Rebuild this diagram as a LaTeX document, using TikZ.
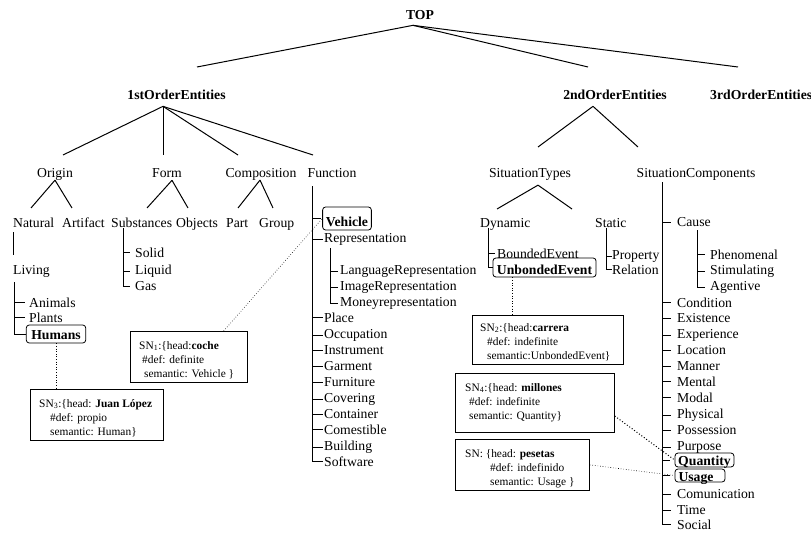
\documentclass[tikz,border=0pt]{standalone}
\usepackage{fontspec}
\setmainfont{Liberation Serif}
\usetikzlibrary{calc}
\begin{document}
\begin{tikzpicture}[x=1pt,y=-1pt,
  lab/.style={font=\fontsize{13.7}{16}\selectfont, inner sep=0pt},
  head/.style={font=\fontsize{13.7}{16}\selectfont\bfseries, inner sep=0pt, anchor=base},
  mid/.style={lab, anchor=base},
  item/.style={lab, anchor=base west},
  hl/.style={draw, rounded corners=3pt, line width=0.8pt, font=\fontsize{13.7}{16}\selectfont\bfseries, inner ysep=0pt, anchor=base},
  edge/.style={line width=1pt},
  spine/.style={line width=0.9pt},
  snbox/.style={draw, line width=0.8pt, anchor=north west, inner sep=0pt},
  sntext/.style={font=\fontsize{11.4}{14}\selectfont, align=left, anchor=north west, inner sep=0pt},
  link/.style={dotted, line width=0.6pt},
]
\useasboundingbox (0,0) rectangle (811,534);

% ---- upper levels ----
\node[head] (top) at (420,20) {TOP};
\node[head] (first) at (176.5,100) {1stOrderEntities};
\node[head] (second) at (615,100) {2ndOrderEntities};
\node[head, anchor=base west] (third) at (710,100) {3rdOrderEntities};

\coordinate (top-f) at ([xshift=-7pt,yshift=-5pt]top.south);
\coordinate (h1) at (197,67);
\coordinate (h2) at (588,67);
\coordinate (h3) at (738,67);
\draw[edge] (top-f) -- (h1);
\draw[edge] (top-f) -- (h2);
\draw[edge] (top-f) -- (h3);

\node[mid] (origin) at (55,178) {Origin};
\node[mid] (form) at (167,178) {Form};
\node[mid] (composition) at (261,178) {Composition};
\node[mid] (function) at (332,178) {Function};
\node[mid] (sittypes) at (530,178) {SituationTypes};
\node[mid] (sitcomp) at (696,178) {SituationComponents};

\coordinate (first-f) at ([xshift=-13.5pt,yshift=-6pt]first.south);
\coordinate (o-h) at (63,155);
\coordinate (f-h) at (163,155);
\coordinate (c-h) at (238,155);
\coordinate (fn-h) at (313,155);
\foreach \h in {o-h,f-h,c-h,fn-h} \draw[edge] (first-f) -- (\h);

\coordinate (second-f) at ([xshift=-22pt,yshift=-6pt]second.south);
\coordinate (st-h) at (538,147);
\coordinate (sc-h) at (638,147);
\draw[edge] (second-f) -- (st-h);
\draw[edge] (second-f) -- (sc-h);

% ---- third level ----
\node[item] (natural) at (13,227.5) {Natural};
\node[item] (artifact) at (62,227.5) {Artifact};
\node[item] (substances) at (111,227.5) {Substances};
\node[item] (objects) at (176,227.5) {Objects};
\node[item] (part) at (226,227.5) {Part};
\node[item] (group) at (259,227.5) {Group};
\node[item] (dynamic) at (480,227.5) {Dynamic};
\node[item] (static) at (595,227.5) {Static};

\coordinate (origin-f) at ([yshift=1pt]origin.south);
\coordinate (nat-h) at (31,208);
\coordinate (art-h) at (72,208);
\draw[edge] (origin-f) -- (nat-h);
\draw[edge] (origin-f) -- (art-h);

\coordinate (form-f) at ([xshift=5pt,yshift=-2pt]form.south);
\coordinate (sub-h) at (147,208);
\coordinate (obj-h) at (188,208);
\draw[edge] (form-f) -- (sub-h);
\draw[edge] (form-f) -- (obj-h);

\coordinate (comp-f) at ([xshift=-1pt,yshift=1pt]composition.south);
\coordinate (part-h) at (238,208);
\coordinate (group-h) at (273,208);
\draw[edge] (comp-f) -- (part-h);
\draw[edge] (comp-f) -- (group-h);

\coordinate (st-f) at ([xshift=8pt,yshift=-4pt]sittypes.south);
\coordinate (dyn-h) at (497,209);
\coordinate (sta-h) at (572,209);
\draw[edge] (st-f) -- (dyn-h);
\draw[edge] (st-f) -- (sta-h);

% ---- Natural / Living ----
\node[item] (living) at (13,274.5) {Living};
\node[item] (animals) at (29,307.5) {Animals};
\node[item] (plants) at (29,322.5) {Plants};
\node[hl, inner xsep=5pt, text height=14.5pt, text depth=3.5pt] (humans) at (56,339.5) {Humans};
\draw[spine, shorten <=4.5pt, shorten >=10pt] (natural.south west) -- (living.north west);
\coordinate (liv-s) at ([xshift=1pt,yshift=-4.5pt]living.south west);
\draw[spine] (liv-s) |- (humans.west);
\foreach \n in {animals,plants} \draw[spine, shorten >=4pt] (liv-s |- \n.west) -- (\n.west);

% ---- Substances ----
\node[item] (solid) at (135,257.5) {Solid};
\node[item] (liquid) at (135,274.5) {Liquid};
\node[item] (gas) at (135,290.5) {Gas};
\coordinate (sub-s) at ([xshift=12pt,yshift=-0.5pt]substances.south west);
\draw[spine, shorten >=5pt] (sub-s) |- (gas.west);
\foreach \n in {solid,liquid} \draw[spine, shorten >=5pt] (sub-s |- \n.west) -- (\n.west);

% ---- Function ----
\node[hl, inner xsep=3.3pt, text height=19.5pt, text depth=3.5pt] (vehicle) at (347,226.5) {Vehicle};
\node[item] (representation) at (324,242.5) {Representation};
\node[item] (langrep) at (340,274.5) {LanguageRepresentation};
\node[item] (imagerep) at (340,291) {ImageRepresentation};
\node[item] (moneyrep) at (340,307) {Moneyrepresentation};
\node[item] (place) at (324,322.5) {Place};
\node[item] (occupation) at (324,338.5) {Occupation};
\node[item] (instrument) at (324,354.5) {Instrument};
\node[item] (garment) at (324,370.5) {Garment};
\node[item] (furniture) at (324,386.5) {Furniture};
\node[item] (covering) at (324,402.5) {Covering};
\node[item] (container) at (324,418.5) {Container};
\node[item] (comestible) at (324,434.5) {Comestible};
\node[item] (building) at (324,450.5) {Building};
\node[item] (software) at (324,466.5) {Software};
\coordinate (fn-s) at ([xshift=5pt,yshift=-8pt]function.south west);
\draw[spine, shorten >=1pt] (fn-s) |- (software.west);
\foreach \n in {vehicle,representation,place,occupation,instrument,garment,furniture,covering,container,comestible,building}
  \draw[spine, shorten >=1pt] (fn-s |- \n.west) -- (\n.west);
\coordinate (rep-s) at ([xshift=6pt,yshift=-2.5pt]representation.south west);
\draw[spine, shorten >=2pt] (rep-s) |- (moneyrep.west);
\foreach \n in {langrep,imagerep} \draw[spine, shorten >=2pt] (rep-s |- \n.west) -- (\n.west);

% ---- Dynamic / Static ----
\node[item] (bounded) at (497,258.5) {BoundedEvent};
\node[hl, inner xsep=4pt, text height=16.5pt, text depth=2.5pt] (unb) at (544.5,274.5) {UnbondedEvent};
\coordinate (dyn-s) at ([xshift=8pt,yshift=2.5pt]dynamic.south west);
\draw[spine] (dyn-s) |- (unb.west);
\draw[spine, shorten >=2pt] (dyn-s |- bounded.west) -- (bounded.west);

\node[item] (property) at (612,259.5) {Property};
\node[item] (relation) at (612,274.5) {Relation};
\coordinate (sta-s) at ([xshift=11pt,yshift=-0.5pt]static.south west);
\draw[spine, shorten >=0.5pt] (sta-s) |- (relation.west);
\draw[spine, shorten >=0.5pt] (sta-s |- property.west) -- (property.west);

% ---- SituationComponents ----
\node[item] (cause) at (677,226.5) {Cause};
\node[item] (phenomenal) at (710,259.5) {Phenomenal};
\node[item] (stimulating) at (710,274.5) {Stimulating};
\node[item] (agentive) at (710,290.5) {Agentive};
\node[item] (condition) at (677,307.5) {Condition};
\node[item] (existence) at (677,322.5) {Existence};
\node[item] (experience) at (677,338.5) {Experience};
\node[item] (location) at (677,354.5) {Location};
\node[item] (manner) at (677,370.5) {Manner};
\node[item] (mental) at (677,386.5) {Mental};
\node[item] (modal) at (677,402.5) {Modal};
\node[item] (physical) at (677,418.5) {Physical};
\node[item] (possession) at (677,434.5) {Possession};
\node[item] (purpose) at (677,450.5) {Purpose};
\node[hl, inner xsep=3.2pt, text height=12.5pt, text depth=1.5pt] (qty) at (704.5,465.5) {Quantity};
\node[hl, inner xsep=3.5pt, text height=12.5pt, text depth=0.5pt] (usage) at (700,481.5) {Usage\hspace*{8pt}};
\node[item] (comunication) at (677,498.5) {Comunication};
\node[item] (time) at (677,514.5) {Time};
\node[item] (social) at (677,529.5) {Social};
\coordinate (sc-s) at ([xshift=26pt,yshift=-1pt]sitcomp.south west);
\draw[spine, shorten >=6pt] (sc-s) |- (social.west);
\foreach \n in {cause,condition,existence,experience,location,manner,mental,modal,physical,possession,purpose,comunication,time}
  \draw[spine, shorten >=6pt] (sc-s |- \n.west) -- (\n.west);
\foreach \n in {qty,usage}
  \draw[spine, shorten >=5pt] (sc-s |- \n.west) -- (\n.west);
\coordinate (cau-s) at ([xshift=20pt,yshift=-3.5pt]cause.south west);
\draw[spine, shorten >=5pt] (cau-s) |- (agentive.west);
\foreach \n in {phenomenal,stimulating} \draw[spine, shorten >=5pt] (cau-s |- \n.west) -- (\n.west);

% ---- SN annotation boxes ----
\node[snbox, minimum width=133pt, minimum height=51pt] (sn3) at (30,389) {};
\node[sntext] (sn3t) at (39,399) {SN\textsubscript{3}:\{head: \textbf{Juan López}\\\hspace*{11pt}\#def: propio\\\hspace*{11pt}semantic: Human\}};

\node[snbox, minimum width=117pt, minimum height=51pt] (sn1) at (130,331) {};
\node[sntext] (sn1t) at (139,341) {SN\textsubscript{1}:\{head:\textbf{coche}\\\hspace*{3pt}\#def: definite\\\hspace*{5pt}semantic: Vehicle \}};

\node[snbox, minimum width=151pt, minimum height=49pt] (sn2) at (472,315) {};
\node[sntext] (sn2t) at (480,323) {SN\textsubscript{2}:\{head:\textbf{carrera}\\\hspace*{7pt}\#def: indefinite\\\hspace*{7pt}semantic:UnbondedEvent\}};

\node[snbox, minimum width=159pt, minimum height=59pt] (sn4) at (455,373) {};
\node[sntext] (sn4t) at (465,383) {SN\textsubscript{4}:\{head: \textbf{millones}\\\hspace*{4pt}\#def: indefinite\\\hspace*{4pt}semantic: Quantity\}};

\node[snbox, minimum width=134pt, minimum height=51pt] (sn) at (455,439) {};
\node[sntext] (snt) at (465,449) {SN: \{head: \textbf{pesetas}\\\hspace*{25pt}\#def: indefinido\\\hspace*{25pt}semantic: Usage \}};

% ---- dotted links from annotations to concepts ----
\draw[link] (humans.south) -- (humans.south |- sn3.north);
\draw[link] ($(sn1.north west)!0.795!(sn1.north east)$) -- (vehicle.west);
\coordinate (unb-f) at ($(unb.south west)!0.19!(unb.south east)$);
\draw[link] (unb-f) -- (unb-f |- sn2.north);
\draw[link, line width=1pt] ($(sn4.north east)!0.72!(sn4.south east)$) -- (qty.west);
\draw[link] (sn.east) -- (usage.west);
\end{tikzpicture}
\end{document}
